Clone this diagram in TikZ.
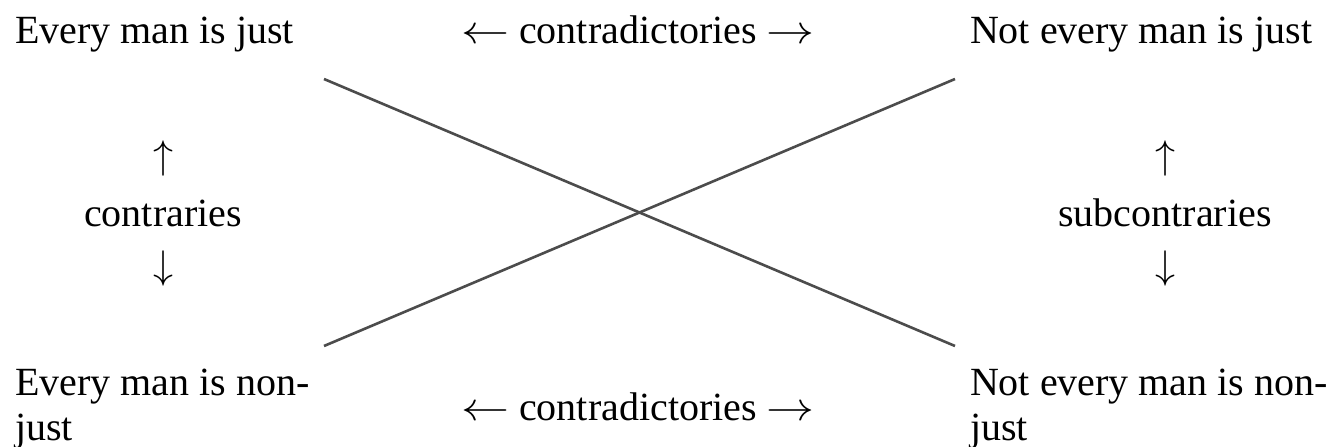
\documentclass[tikz,border=0pt]{standalone}
\usepackage{graphicx}
\usepackage{fontspec}
\setmainfont{Liberation Serif}
\newcommand{\bigarr}[1]{\scalebox{4}{\normalsize$#1$}}
\newcommand{\widearr}[1]{\scalebox{4.8}[4]{\normalsize$#1$}}
\begin{document}
\begin{tikzpicture}[x=1pt,y=-1pt,
  lbl/.style={inner sep=0pt,outer sep=0pt,font=\fontsize{40}{46}\selectfont},
  crossline/.style={line width=2.6pt,draw=black!70}]
\fill[white] (0,0) rectangle (1328,447);
\useasboundingbox (0,0) rectangle (1328,447);
% corner texts
\node[lbl,anchor=base west] (tl) at (15,43) {Every man is just};
\node[lbl,anchor=base west] (tr) at (970,43) {Not every man is just};
\node[lbl,anchor=base west] (bl) at (15,395) {Every man is non-};
\node[lbl,anchor=base west] (bl2) at (15,440) {just};
\node[lbl,anchor=base west] (br) at (970,395) {Not every man is non-};
\node[lbl,anchor=base west] (br2) at (970,440) {just};
% relation labels
\node[lbl,anchor=base] (ct) at (638,43) {\widearr{\leftarrow} contradictories \widearr{\rightarrow}};
\node[lbl,anchor=base] (cb) at (638,420) {\widearr{\leftarrow} contradictories \widearr{\rightarrow}};
\node[lbl] (lu) at (163,158) {\bigarr{\uparrow}};
\node[lbl,anchor=base] (lc) at (163,226) {contraries};
\node[lbl] (ld) at (163,268) {\bigarr{\downarrow}};
\node[lbl] (ru) at (1165,158) {\bigarr{\uparrow}};
\node[lbl,anchor=base] (rc) at (1165,226) {subcontraries};
\node[lbl] (rd) at (1165,268) {\bigarr{\downarrow}};
% cross
\coordinate (a1) at (324,79);
\coordinate (a2) at (955,346);
\coordinate (b1) at (324,346);
\coordinate (b2) at (955,79);
\draw[crossline] (a1) -- (a2);
\draw[crossline] (b1) -- (b2);
\end{tikzpicture}
\end{document}
